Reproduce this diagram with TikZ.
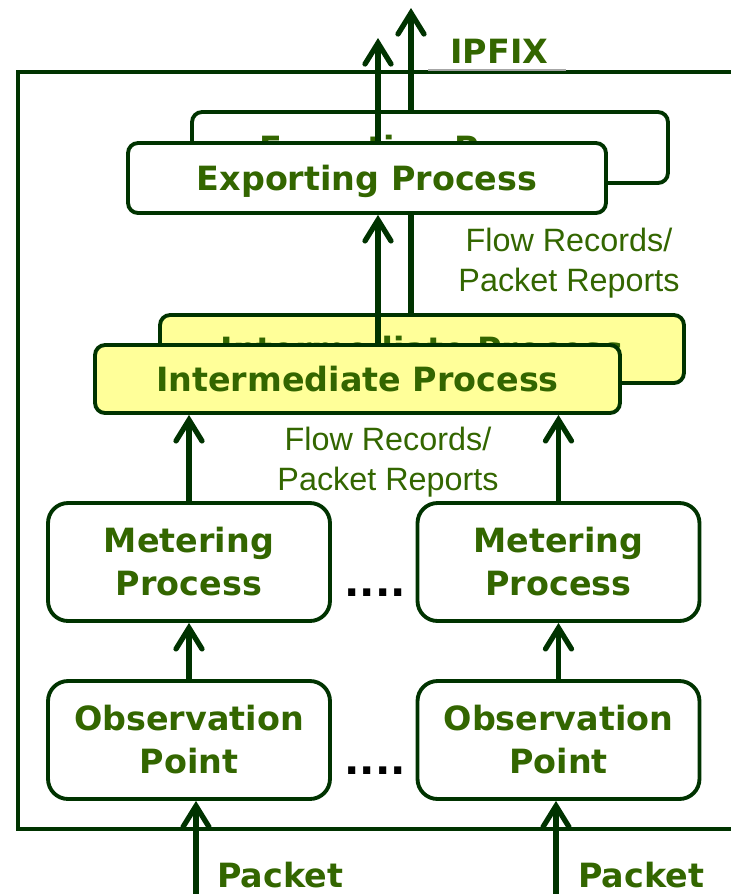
\documentclass[tikz,border=0pt]{standalone}
\usepackage{fontspec}
\setmainfont{DejaVu Sans}
\newfontfamily\notefont{Liberation Sans}
\usetikzlibrary{arrows.meta}
\definecolor{edge}{HTML}{003300}
\definecolor{ink}{HTML}{336600}
\definecolor{pale}{HTML}{FFFF99}
\tikzset{box/.style = {draw = edge, line width = 2.2pt, fill = white, text = ink,
                       rounded corners = 0.2cm, align = center, inner sep = 0,
                       font = \fontsize{19}{24.5}\selectfont\bfseries}}
\tikzset{procbox/.style = {box, minimum width = 9.56cm, minimum height = 1.4cm, text depth = 0pt}}
\tikzset{interbox/.style = {box, fill = pale, minimum width = 10.5cm, minimum height = 1.36cm, text depth = 0pt}}
\tikzset{stagebox/.style = {box, rounded corners = 0.4cm, minimum width = 5.64cm, minimum height = 2.36cm}}
\tikzset{flow/.style = {draw = edge, line width = 3pt,
                        -{Straight Barb[length = 0.42cm, width = 0.52cm, line cap = round]}}}
\tikzset{note/.style = {text = ink, align = center, inner sep = 0,
                        font = \notefont\fontsize{18.4}{22.7}\selectfont}}
\tikzset{tag/.style = {text = ink, inner sep = 0, font = \fontsize{19}{24}\selectfont\bfseries}}
\tikzset{gap/.style = {text = black, inner sep = 0, font = \fontsize{23}{24}\selectfont\bfseries}}

\begin{document}
\begin{tikzpicture}[x = 0.02cm, y = -0.02cm]
      \useasboundingbox (0, 0) rectangle (731, 894);
      \clip (0, 0) rectangle (731, 894);
      % device frame
      \draw [edge, line width = 2.8pt] (18, 72) rectangle (760, 829);
      \draw [black!35, line width = 1.2pt] (428, 70.2) -- (566, 70.2);
      \node [tag, anchor = base west] (ipfix) at (450, 63) {IPFIX};
      % exit points
      \coordinate (upA) at (378, 38);
      \coordinate (upB) at (411, 8);
      % processes
      \node [procbox, minimum width = 9.52cm, minimum height = 1.42cm] (expB) at (430, 147.5) {Exporting Process};
      \node [interbox, minimum width = 10.48cm] (interB) at (422, 349) {Intermediate Process};
      \draw [flow] (interB.north -| upB) -- (expB.south -| upB);
      \draw [flow] (expB.north -| upB) -- (upB);
      \node [procbox] (expF) at (367, 178) {Exporting Process};
      \draw [flow] (expF.north -| upA) -- (upA);
      \node [interbox] (interF) at (357.5, 379) {Intermediate Process};
      \draw [flow] (interF.north -| upA) -- (expF.south -| upA);
      \node [note, anchor = base] at (569, 291) {Flow Records/\\Packet Reports};
      \node [note, anchor = base] at (388, 490) {Flow Records/\\Packet Reports};
      % metering and observation
      \node [stagebox] (meterL) at (189, 562) {Metering\\Process};
      \node [stagebox] (meterR) at (558.5, 562) {Metering\\Process};
      \node [stagebox] (obsL) at (189, 740) {Observation\\Point};
      \node [stagebox] (obsR) at (558.5, 740) {Observation\\Point};
      \node [gap, anchor = base] at (375, 596) {....};
      \node [gap, anchor = base] at (375, 774) {....};
      \draw [flow] (obsL) -- (meterL);
      \draw [flow] (obsR) -- (meterR);
      \draw [flow] (meterL) -- (meterL |- interF.south);
      \draw [flow] (meterR) -- (meterR |- interF.south);
      % incoming packets
      \coordinate (pktL) at (196, 894);
      \coordinate (pktR) at (556, 894);
      \draw [flow] (pktL) -- (pktL |- obsL.south);
      \draw [flow] (pktR) -- (pktR |- obsR.south);
      \node [tag, anchor = base west] at (217, 887) {Packet};
      \node [tag, anchor = base west] at (578, 887) {Packet};
    \end{tikzpicture}
\end{document}
